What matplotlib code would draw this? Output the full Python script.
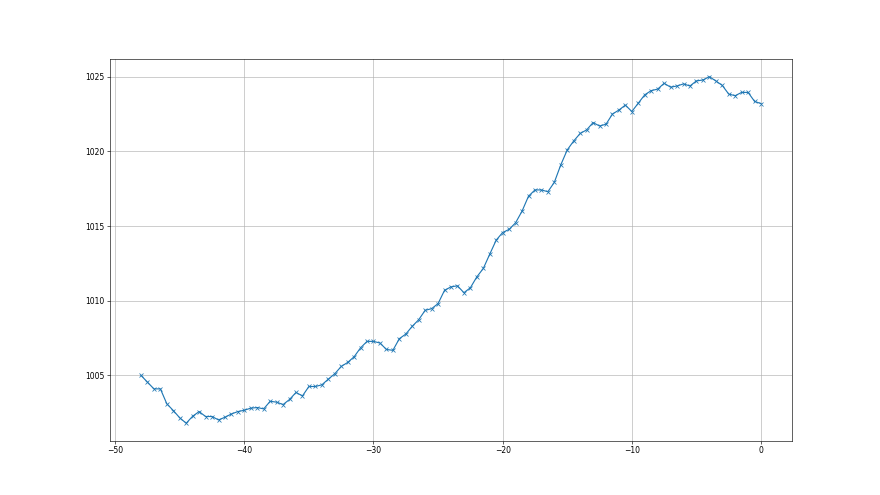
import matplotlib
matplotlib.use("Agg")
import matplotlib.pyplot as plt
import numpy as np

# hours relative to now, one reading every half hour
hours = np.arange(-48, 0.5, 0.5)

pressure = [
    1005.0, 1004.55, 1004.1, 1004.1, 1003.1, 1002.65, 1002.16, 1001.8,
    1002.27, 1002.58, 1002.25, 1002.25, 1002.02, 1002.2, 1002.42, 1002.58,
    1002.67, 1002.81, 1002.85, 1002.76, 1003.27, 1003.21, 1003.05, 1003.39,
    1003.86, 1003.63, 1004.26, 1004.26, 1004.37, 1004.75, 1005.11, 1005.6,
    1005.87, 1006.25, 1006.85, 1007.28, 1007.28, 1007.17, 1006.74, 1006.68,
    1007.46, 1007.77, 1008.29, 1008.73, 1009.36, 1009.47, 1009.81, 1010.7,
    1010.93, 1011.0, 1010.54, 1010.87, 1011.6, 1012.16, 1013.12, 1014.06,
    1014.57, 1014.78, 1015.22, 1016.0, 1017.0, 1017.42, 1017.42, 1017.3,
    1017.93, 1019.1, 1020.1, 1020.7, 1021.2, 1021.44, 1021.93, 1021.7,
    1021.82, 1022.5, 1022.77, 1023.1, 1022.67, 1023.23, 1023.79, 1024.07,
    1024.17, 1024.56, 1024.3, 1024.38, 1024.52, 1024.38, 1024.72, 1024.78,
    1025.0, 1024.72, 1024.42, 1023.84, 1023.73, 1023.95, 1023.95, 1023.35,
    1023.2,
]

fig = plt.figure(figsize=(16, 9), dpi=55)
ax = fig.add_subplot()
ax.plot(hours, pressure, marker='x')
ax.grid(True)

fig.savefig("out.png", dpi=55)
